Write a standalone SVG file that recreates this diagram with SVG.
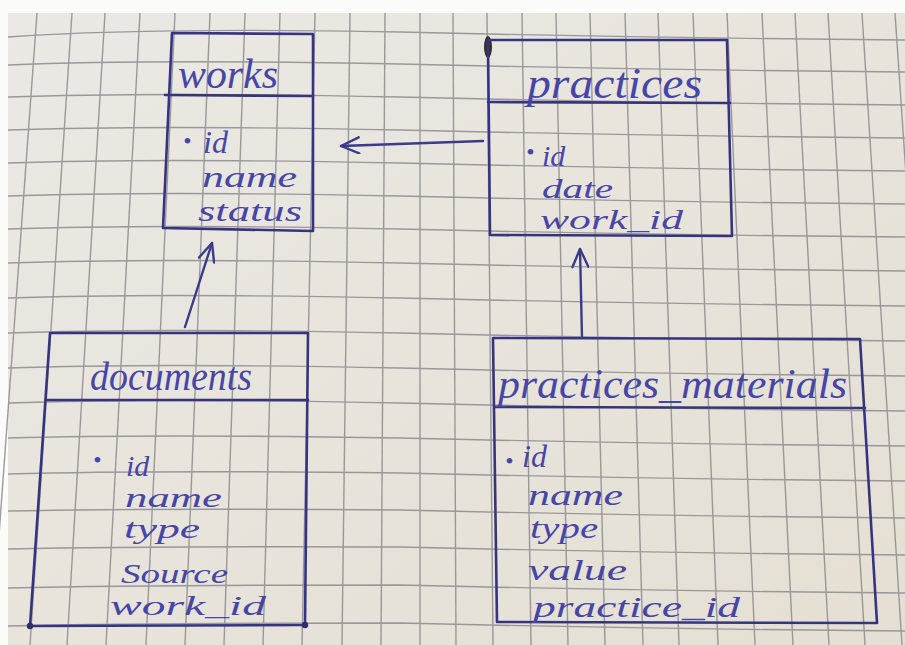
<svg xmlns="http://www.w3.org/2000/svg" width="905" height="645" viewBox="0 0 905 645">
<defs>
  <linearGradient id="paper" x1="0" y1="0" x2="1" y2="1">
    <stop offset="0" stop-color="#ebe9e4"/>
    <stop offset="1" stop-color="#e5dfd3"/>
  </linearGradient>
  <marker id="arrow" viewBox="0 0 22 18" refX="20" refY="9" markerWidth="22" markerHeight="18" markerUnits="userSpaceOnUse" orient="auto">
    <path d="M2,1 L20,9 L2,17" fill="none" stroke="#3b3b8c" stroke-width="2.4" stroke-linecap="round" stroke-linejoin="round"/>
  </marker>
  <style>
    .grid{fill:none;stroke:#8b8b92;stroke-width:1.4;opacity:.85}
    .box{fill:none;stroke:#35357f;stroke-width:2.6;stroke-linejoin:round;stroke-linecap:round}
    .conn{fill:none;stroke:#3b3b8c;stroke-width:2.4;stroke-linecap:round}
    .t{font-family:"Liberation Serif","DejaVu Serif",serif;font-style:italic;fill:#4646a6}
    .b{font-size:24px}
  </style>
</defs>

<rect x="0" y="0" width="905" height="645" fill="#fbfbfa"/>
<rect x="8" y="13" width="897" height="632" fill="url(#paper)"/>

<g id="grid">
  <g class="grid">
    <path d="M37,13 L-9,645"/>
    <path d="M72,13 L30,645"/>
    <path d="M105,13 L67,645"/>
    <path d="M140,13 L106,645"/>
    <path d="M175,13 L146,645"/>
    <path d="M210,13 L185,645"/>
    <path d="M245,13 L224,645"/>
    <path d="M280,13 L263,645"/>
    <path d="M315,13 L302,645"/>
    <path d="M350,13 L342,645"/>
    <path d="M385,13 L381,645"/>
    <path d="M420,13 L420,645"/>
    <path d="M453,13 L456,645"/>
    <path d="M487,13 L493,645"/>
    <path d="M522,13 L531,645"/>
    <path d="M556,13 L568,645"/>
    <path d="M590,13 L605,645"/>
    <path d="M625,13 L643,645"/>
    <path d="M658,13 L679,645"/>
    <path d="M693,13 L718,645"/>
    <path d="M727,13 L755,645"/>
    <path d="M762,13 L793,645"/>
    <path d="M795,13 L829,645"/>
    <path d="M828,13 L865,645"/>
    <path d="M862,13 L902,645"/>
    <path d="M895,13 L938,645"/>

    <path d="M8,37 Q150,27 400,32 Q650,38 905,40"/>
    <path d="M8,65 Q150,59 400,64 Q650,70 905,72"/>
    <path d="M8,97 Q150,92 400,97 Q650,103 905,105"/>
    <path d="M8,130 Q150,125 400,130 Q650,136 905,138"/>
    <path d="M8,163 Q150,158 400,163 Q650,169 905,171"/>
    <path d="M8,196 Q150,191 400,196 Q650,202 905,204"/>
    <path d="M8,229 Q150,224 400,229 Q650,235 905,237"/>
    <path d="M8,263 Q150,258 400,263 Q650,269 905,271"/>
    <path d="M8,298 Q150,293 400,298 Q650,304 905,306"/>
    <path d="M8,333 Q150,328 400,333 Q650,339 905,341"/>
    <path d="M8,368 Q150,363 400,368 Q650,374 905,376"/>
    <path d="M8,403 Q150,398 400,403 Q650,409 905,411"/>
    <path d="M8,438 Q150,434 400,438 Q650,444 905,446"/>
    <path d="M8,474 Q150,470 400,473 Q650,479 905,481"/>
    <path d="M8,511 Q150,508 400,510 Q650,516 905,518"/>
    <path d="M8,549 Q150,546 400,547 Q650,553 905,555"/>
    <path d="M8,588 Q150,585 400,585 Q650,591 905,593"/>
    <path d="M8,626 Q150,623 400,623 Q650,629 905,631"/>
  </g>
</g>

<ellipse cx="488" cy="47" rx="4" ry="11" fill="#3a302c"/>

<g id="works">
  <path class="box" d="M172,33 L313,34 L313,231 L163,228 Z"/>
  <path class="box" d="M165,95 L313,96"/>
  <text class="t" font-size="42" x="178" y="88" textLength="100" lengthAdjust="spacingAndGlyphs">works</text>
  <text class="t" font-size="32" y="153"><tspan class="b" x="183" dy="-4">•</tspan><tspan x="203" dy="4">id</tspan></text>
  <text class="t" font-size="30" x="202" y="187" textLength="95" lengthAdjust="spacingAndGlyphs">name</text>
  <text class="t" font-size="30" x="198" y="221" textLength="104" lengthAdjust="spacingAndGlyphs">status</text>
</g>

<g id="practices">
  <path class="box" d="M488,40 L727,40 L732,236 L490,235 Z"/>
  <path class="box" d="M488,102 L730,103"/>
  <text class="t" x="527" y="98" font-size="44" textLength="175" lengthAdjust="spacingAndGlyphs">practices</text>
  <text class="t" font-size="30" y="166"><tspan class="b" x="526" dy="-6">•</tspan><tspan x="542" dy="6">id</tspan></text>
  <text class="t" font-size="28" x="542" y="198" textLength="71" lengthAdjust="spacingAndGlyphs">date</text>
  <text class="t" font-size="28" x="540" y="229" textLength="143" lengthAdjust="spacingAndGlyphs">work_id</text>
</g>

<g id="documents">
  <path class="box" d="M50,333 L308,333 L305,625 L30,626 Z"/>
  <path class="box" d="M46,400 L308,400"/>
  <circle cx="30" cy="626" r="3.2" fill="#2e2e6e"/>
  <circle cx="305" cy="625" r="3.2" fill="#2e2e6e"/>
  <text class="t" font-size="40" x="90" y="390" textLength="162" lengthAdjust="spacingAndGlyphs">documents</text>
  <text class="t" font-size="30" y="476"><tspan class="b" x="93" dy="-8">•</tspan><tspan x="126" dy="8">id</tspan></text>
  <text class="t" font-size="28" x="125" y="507" textLength="97" lengthAdjust="spacingAndGlyphs">name</text>
  <text class="t" font-size="28" x="124" y="538" textLength="76" lengthAdjust="spacingAndGlyphs">type</text>
  <text class="t" font-size="28" x="121" y="583" textLength="107" lengthAdjust="spacingAndGlyphs">Source</text>
  <text class="t" font-size="28" x="110" y="615" textLength="156" lengthAdjust="spacingAndGlyphs">work_id</text>
</g>

<g id="practices_materials">
  <path class="box" d="M493,338 L860,339 L877,623 L497,622 Z"/>
  <path class="box" d="M495,407 L865,408"/>
  <text class="t" x="498" y="398" font-size="42" textLength="349" lengthAdjust="spacingAndGlyphs">practices_materials</text>
  <text class="t" font-size="32" y="467"><tspan class="b" x="505" dy="2">•</tspan><tspan x="522" dy="-2">id</tspan></text>
  <text class="t" font-size="30" x="528" y="505" textLength="95" lengthAdjust="spacingAndGlyphs">name</text>
  <text class="t" font-size="30" x="530" y="538" textLength="68" lengthAdjust="spacingAndGlyphs">type</text>
  <text class="t" font-size="30" x="528" y="580" textLength="99" lengthAdjust="spacingAndGlyphs">value</text>
  <text class="t" font-size="30" x="533" y="617" textLength="207" lengthAdjust="spacingAndGlyphs">practice_id</text>
</g>

<g id="connectors">
  <path class="conn" d="M483,141 Q420,143 341,146" marker-end="url(#arrow)"/>
  <path class="conn" d="M185,327 L212,243" marker-end="url(#arrow)"/>
  <path class="conn" d="M582,337 L580,249" marker-end="url(#arrow)"/>
</g>
</svg>
